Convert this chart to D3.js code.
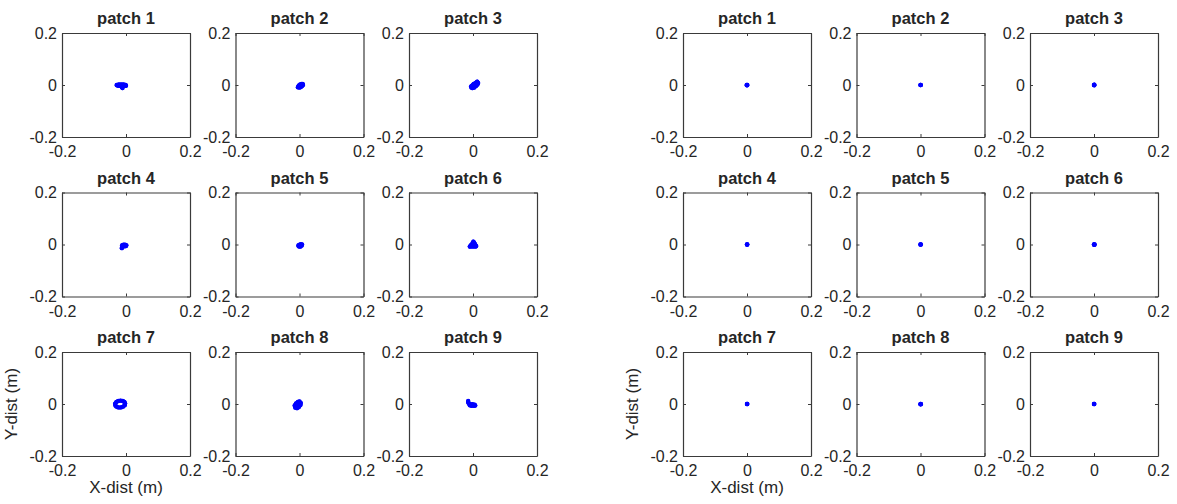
<!DOCTYPE html>
<html>
<head>
<meta charset="utf-8">
<script src="https://cdn.jsdelivr.net/npm/d3@7"></script>
<style>
  html, body { margin: 0; padding: 0; background: #fff; }
  svg { display: block; }
  text { font-family: "Liberation Sans", Arial, Helvetica, sans-serif; fill: #262626; }
</style>
</head>
<body>
<svg id="chart" width="1177" height="504"></svg>
<script>
// ---- data ----
const patchTitles = ["patch 1","patch 2","patch 3","patch 4","patch 5","patch 6","patch 7","patch 8","patch 9"];
const tickValues = [-0.2, 0, 0.2];
const tickLabels = ["-0.2", "0", "0.2"];
const xAxisLabel = "X-dist (m)";
const yAxisLabel = "Y-dist (m)";

// left group (before): trajectories per patch, metres
const beforeX = [
  [-0.029,-0.022,-0.015,-0.008,-0.001,0.000,-0.006,-0.012,-0.011,-0.016,-0.024,-0.028,-0.018,-0.009,-0.013],
  [-0.004,-0.002,0.002,0.006,0.010,0.011,0.008,0.004,0.000,-0.005,-0.003,0.003,0.007],
  [-0.005,-0.003,0.002,0.008,0.013,0.016,0.014,0.009,0.004,-0.002,-0.006,0.000,0.006,0.010,0.003],
  [-0.013,-0.012,-0.012,-0.008,-0.003,0.001,0.000,-0.004,-0.009,-0.012,-0.006],
  [-0.003,0.000,0.004,0.008,0.007,0.003,-0.001,-0.003,0.002],
  [-0.010,-0.006,-0.002,0.001,0.003,0.006,0.010,0.008,0.002,-0.004,-0.008,-0.003,0.003],
  [-0.003,-0.005,-0.010,-0.017,-0.024,-0.030,-0.034,-0.033,-0.030,-0.024,-0.016,-0.009,-0.004,-0.003],
  [-0.013,-0.015,-0.011,-0.005,0.000,0.004,0.003,-0.002,-0.008,-0.012,-0.007,-0.003],
  [-0.015,-0.015,-0.012,-0.008,-0.002,0.005,0.007,0.003,-0.004,-0.010,-0.006]
];
const beforeY = [
  [0.000,0.002,0.002,0.002,0.000,-0.003,-0.004,-0.005,-0.012,-0.004,-0.003,-0.001,-0.002,-0.002,-0.008],
  [-0.008,-0.002,0.002,0.004,0.004,0.000,-0.004,-0.008,-0.010,-0.009,-0.005,-0.003,0.000],
  [-0.010,-0.003,0.004,0.008,0.013,0.008,0.002,-0.004,-0.010,-0.012,-0.006,0.000,0.002,-0.002,-0.005],
  [-0.014,-0.009,-0.003,-0.001,-0.001,-0.003,-0.006,-0.007,-0.006,-0.011,-0.004],
  [-0.006,-0.001,0.001,0.000,-0.004,-0.008,-0.008,-0.003,-0.004],
  [-0.008,-0.002,0.004,0.011,0.008,0.002,-0.006,-0.008,-0.008,-0.008,-0.006,-0.002,0.000],
  [0.002,0.008,0.012,0.013,0.012,0.008,0.001,-0.006,-0.010,-0.013,-0.013,-0.010,-0.005,0.002],
  [-0.014,-0.006,0.002,0.008,0.010,0.004,-0.004,-0.012,-0.016,-0.010,-0.002,0.002],
  [0.012,0.006,0.001,-0.002,-0.001,-0.003,-0.006,-0.007,-0.007,-0.005,-0.004]
];

// right group (after): nearly stationary
const afterX = [
  [0.000,0.001,0.000,-0.001],
  [0.000,0.001,0.000],
  [0.000,0.001,0.001,0.000],
  [0.000,0.001,0.000],
  [0.000,0.001,0.000],
  [0.000,0.002,0.001,0.000],
  [0.000,0.001,0.000],
  [0.000,0.001,0.001,0.000],
  [0.000,0.001,0.000]
];
const afterY = [
  [0.000,0.000,-0.001,0.000],
  [0.000,0.000,0.000],
  [0.000,0.001,-0.001,0.000],
  [0.000,0.000,0.000],
  [0.000,0.000,0.000],
  [0.000,0.000,-0.001,0.000],
  [0.000,0.000,0.000],
  [0.000,0.000,-0.001,-0.001],
  [0.000,0.000,0.000]
];

// ---- layout ----
const panelW = 128, panelH = 104;
const groupLeft = [62, 683];
const colStep = 173.5;
const rowTops = [33, 192.5, 352];
const svg = d3.select("#chart");

function drawGroup(gx, xs, ys) {
  for (let i = 0; i < 9; i++) {
    const col = i % 3, row = Math.floor(i / 3);
    const left = gx + col * colStep, top = rowTops[row];
    const g = svg.append("g").attr("transform", `translate(${left},${top})`);
    const x = d3.scaleLinear().domain([-0.2, 0.2]).range([0, panelW]);
    const y = d3.scaleLinear().domain([-0.2, 0.2]).range([panelH, 0]);

    const fmt = (d) => tickLabels[tickValues.indexOf(d)];
    const styleAxis = (sel) => {
      sel.select(".domain").attr("stroke", "#3a3a3a").attr("stroke-width", 1.2);
      sel.selectAll(".tick line").attr("stroke", "#3a3a3a");
      sel.selectAll("text").attr("fill", "#262626").style("font-size", "16px")
        .style("font-family", "'Liberation Sans', Arial, sans-serif");
    };
    g.append("g").attr("transform", `translate(0,${panelH})`)
      .call(d3.axisBottom(x).tickValues(tickValues).tickFormat(fmt).tickSizeInner(-3).tickSizeOuter(0).tickPadding(9))
      .call(styleAxis);
    g.append("g")
      .call(d3.axisLeft(y).tickValues(tickValues).tickFormat(fmt).tickSizeInner(-3).tickSizeOuter(0).tickPadding(5))
      .call(styleAxis);
    g.append("g")
      .call(d3.axisTop(x).tickValues(tickValues).tickFormat("").tickSizeInner(-3).tickSizeOuter(0))
      .call(styleAxis);
    g.append("g").attr("transform", `translate(${panelW},0)`)
      .call(d3.axisRight(y).tickValues(tickValues).tickFormat("").tickSizeInner(-3).tickSizeOuter(0))
      .call(styleAxis);

    // title
    g.append("text").attr("x", panelW / 2).attr("y", -9)
      .attr("text-anchor", "middle").style("font-size", "16.5px").style("font-weight", "bold")
      .attr("fill", "#111").text(patchTitles[i]);

    // trajectory
    const pts = xs[i].map((v, k) => [v, ys[i][k]]);
    const line = d3.line().x(d => x(d[0])).y(d => y(d[1]));
    g.append("path").attr("d", line(pts)).attr("fill", "none")
      .attr("stroke", "#0000ff").attr("stroke-width", 4)
      .attr("stroke-linejoin", "round").attr("stroke-linecap", "round");
    g.selectAll("circle.pt").data(pts).join("circle").attr("class", "pt")
      .attr("cx", d => x(d[0])).attr("cy", d => y(d[1])).attr("r", 2.2)
      .attr("fill", "#0000ff");

    // axis labels on bottom-left panel
    if (row === 2 && col === 0) {
      g.append("text").attr("x", panelW / 2).attr("y", panelH + 37)
        .attr("text-anchor", "middle").style("font-size", "17px").text(xAxisLabel);
      g.append("text").attr("transform", `translate(-45,${panelH / 2}) rotate(-90)`)
        .attr("text-anchor", "middle").style("font-size", "17px").text(yAxisLabel);
    }
  }
}

drawGroup(groupLeft[0], beforeX, beforeY);
drawGroup(groupLeft[1], afterX, afterY);
</script>
</body>
</html>
